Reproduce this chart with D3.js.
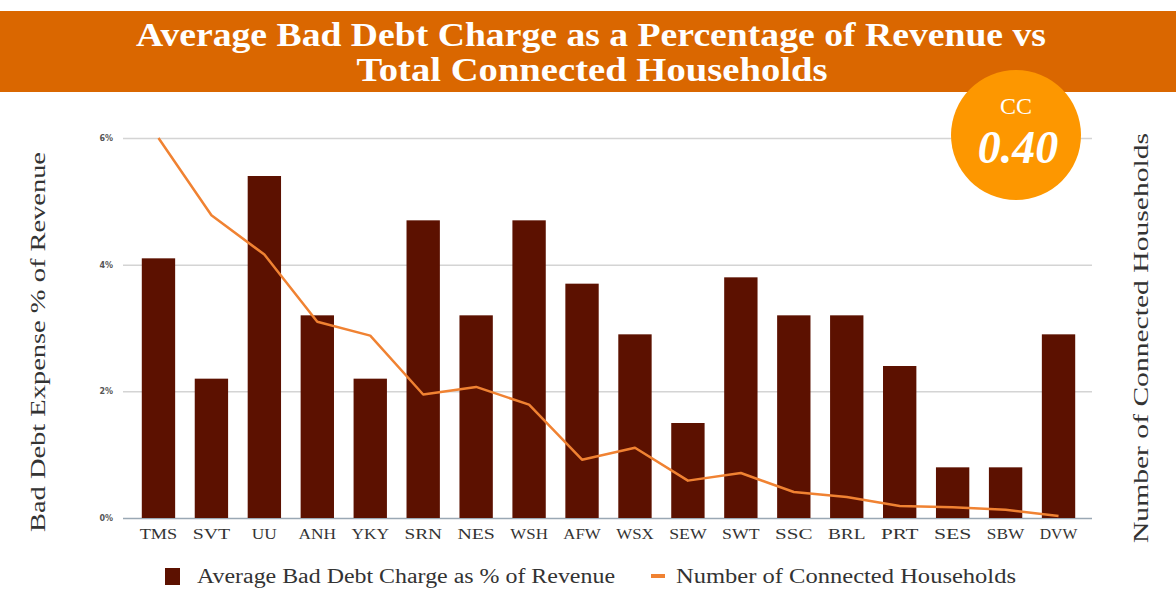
<!DOCTYPE html>
<html>
<head>
<meta charset="utf-8">
<script src="https://cdn.jsdelivr.net/npm/d3@7"></script>
<style>
  body { margin: 0; background: #fff; }
  svg { display: block; font-family: "Liberation Serif", "Times New Roman", serif; }
</style>
</head>
<body>
<div id="chart"></div>
<script>
// data
var companies = ["TMS","SVT","UU","ANH","YKY","SRN","NES","WSH","AFW","WSX","SEW","SWT","SSC","BRL","PRT","SES","SBW","DVW"];
var badDebtPct = [4.1, 2.2, 5.4, 3.2, 2.2, 4.7, 3.2, 4.7, 3.7, 2.9, 1.5, 3.8, 3.2, 3.2, 2.4, 0.8, 0.8, 2.9];
// connected households, thousands (right axis, unlabelled)
var households = [6000, 4780, 4160, 3100, 2880, 1950, 2070, 1790, 920, 1110, 590, 710, 410, 330, 190, 170, 130, 30];
var pctTicks = [0, 2, 4, 6];
var corrValue = "0.40";

var W = 1176, H = 590;
var plot = {left: 123, right: 1092, top: 138, bottom: 518};

var svg = d3.select("#chart").append("svg")
  .attr("width", W)
  .attr("height", H);

// scales
var x = d3.scaleBand()
  .domain(companies)
  .range([132, 1085])
  .paddingInner(0.37)
  .paddingOuter(0.185);

var y = d3.scaleLinear()
  .domain([0, 6])
  .range([plot.bottom, plot.top]);

var yRight = d3.scaleLinear()
  .domain([0, 6000])
  .range([plot.bottom, plot.top]);

// gridlines
svg.append("g")
  .attr("transform", "translate(" + plot.left + ",0)")
  .call(d3.axisLeft(y).tickValues(pctTicks).tickSize(-(plot.right - plot.left)).tickFormat(""))
  .call(function(g) { g.select(".domain").remove(); })
  .selectAll("line")
  .attr("stroke", function(d) { return d === 0 ? "#9aa8b4" : "#d4d4d4"; })
  .attr("stroke-width", 1.5);

// left tick labels
svg.append("g")
  .attr("transform", "translate(116,0)")
  .call(d3.axisLeft(y).tickValues(pctTicks).tickSize(0).tickFormat(function(d) { return d + "%"; }))
  .call(function(g) { g.select(".domain").remove(); })
  .selectAll("text")
  .attr("font-family", "DejaVu Sans, sans-serif")
  .attr("font-size", 8)
  .attr("font-weight", "bold")
  .attr("fill", "#555");

// bars
svg.selectAll(".bar")
  .data(companies)
  .enter()
  .append("rect")
  .attr("class", "bar")
  .attr("x", function(d) { return x(d); })
  .attr("y", function(d, i) { return y(badDebtPct[i]); })
  .attr("width", x.bandwidth())
  .attr("height", function(d, i) { return y(0) - y(badDebtPct[i]); })
  .attr("fill", "#5c1100");

// households line
var line = d3.line()
  .x(function(d, i) { return x(companies[i]) + x.bandwidth() / 2; })
  .y(function(d) { return yRight(d); });

svg.append("path")
  .datum(households)
  .attr("d", line)
  .attr("fill", "none")
  .attr("stroke", "#f08232")
  .attr("stroke-width", 2.5)
  .attr("stroke-linejoin", "round");

// x labels
svg.append("g")
  .attr("transform", "translate(0," + plot.bottom + ")")
  .call(d3.axisBottom(x).tickSize(0).tickPadding(10))
  .call(function(g) { g.select(".domain").remove(); })
  .selectAll("text")
  .attr("font-family", "Liberation Serif, serif")
  .attr("font-size", 15)
  .attr("fill", "#333")
  .attr("textLength", function(d) { return d.length * 12.5; })
  .attr("lengthAdjust", "spacingAndGlyphs");

// axis titles
svg.append("text")
  .attr("transform", "translate(45,342) rotate(-90)")
  .attr("text-anchor", "middle")
  .attr("font-size", 22)
  .attr("fill", "#333")
  .attr("textLength", 380)
  .attr("lengthAdjust", "spacingAndGlyphs")
  .text("Bad Debt Expense % of Revenue");

svg.append("text")
  .attr("transform", "translate(1148,338) rotate(-90)")
  .attr("text-anchor", "middle")
  .attr("font-size", 22)
  .attr("fill", "#333")
  .attr("textLength", 410)
  .attr("lengthAdjust", "spacingAndGlyphs")
  .text("Number of Connected Households");

// legend
var legend = svg.append("g");
legend.append("rect")
  .attr("x", 165).attr("y", 568)
  .attr("width", 15).attr("height", 17)
  .attr("fill", "#5c1100");
legend.append("text")
  .attr("x", 197).attr("y", 583)
  .attr("font-size", 20)
  .attr("fill", "#333")
  .attr("textLength", 418)
  .attr("lengthAdjust", "spacingAndGlyphs")
  .text("Average Bad Debt Charge as % of Revenue");
legend.append("line")
  .attr("x1", 651).attr("x2", 665)
  .attr("y1", 576).attr("y2", 576)
  .attr("stroke", "#f08232")
  .attr("stroke-width", 4);
legend.append("text")
  .attr("x", 676).attr("y", 583)
  .attr("font-size", 20)
  .attr("fill", "#333")
  .attr("textLength", 340)
  .attr("lengthAdjust", "spacingAndGlyphs")
  .text("Number of Connected Households");

// title banner
svg.append("rect")
  .attr("x", 0).attr("y", 11)
  .attr("width", W).attr("height", 81)
  .attr("fill", "#da6700");

svg.append("text")
  .attr("x", 591).attr("y", 46)
  .attr("text-anchor", "middle")
  .attr("font-size", 34)
  .attr("font-weight", "bold")
  .attr("fill", "#fff")
  .attr("textLength", 910)
  .attr("lengthAdjust", "spacingAndGlyphs")
  .text("Average Bad Debt Charge as a Percentage of Revenue vs");

svg.append("text")
  .attr("x", 592).attr("y", 81)
  .attr("text-anchor", "middle")
  .attr("font-size", 34)
  .attr("font-weight", "bold")
  .attr("fill", "#fff")
  .attr("textLength", 471)
  .attr("lengthAdjust", "spacingAndGlyphs")
  .text("Total Connected Households");

// correlation badge
svg.append("circle")
  .attr("cx", 1016).attr("cy", 135)
  .attr("r", 65)
  .attr("fill", "#fd9700");

svg.append("text")
  .attr("x", 1016).attr("y", 114)
  .attr("text-anchor", "middle")
  .attr("font-size", 24)
  .attr("fill", "#fff")
  .text("CC");

svg.append("text")
  .attr("x", 1018).attr("y", 163)
  .attr("text-anchor", "middle")
  .attr("font-size", 46)
  .attr("font-weight", "bold")
  .attr("font-style", "italic")
  .attr("fill", "#fff")
  .text(corrValue);
</script>
</body>
</html>
